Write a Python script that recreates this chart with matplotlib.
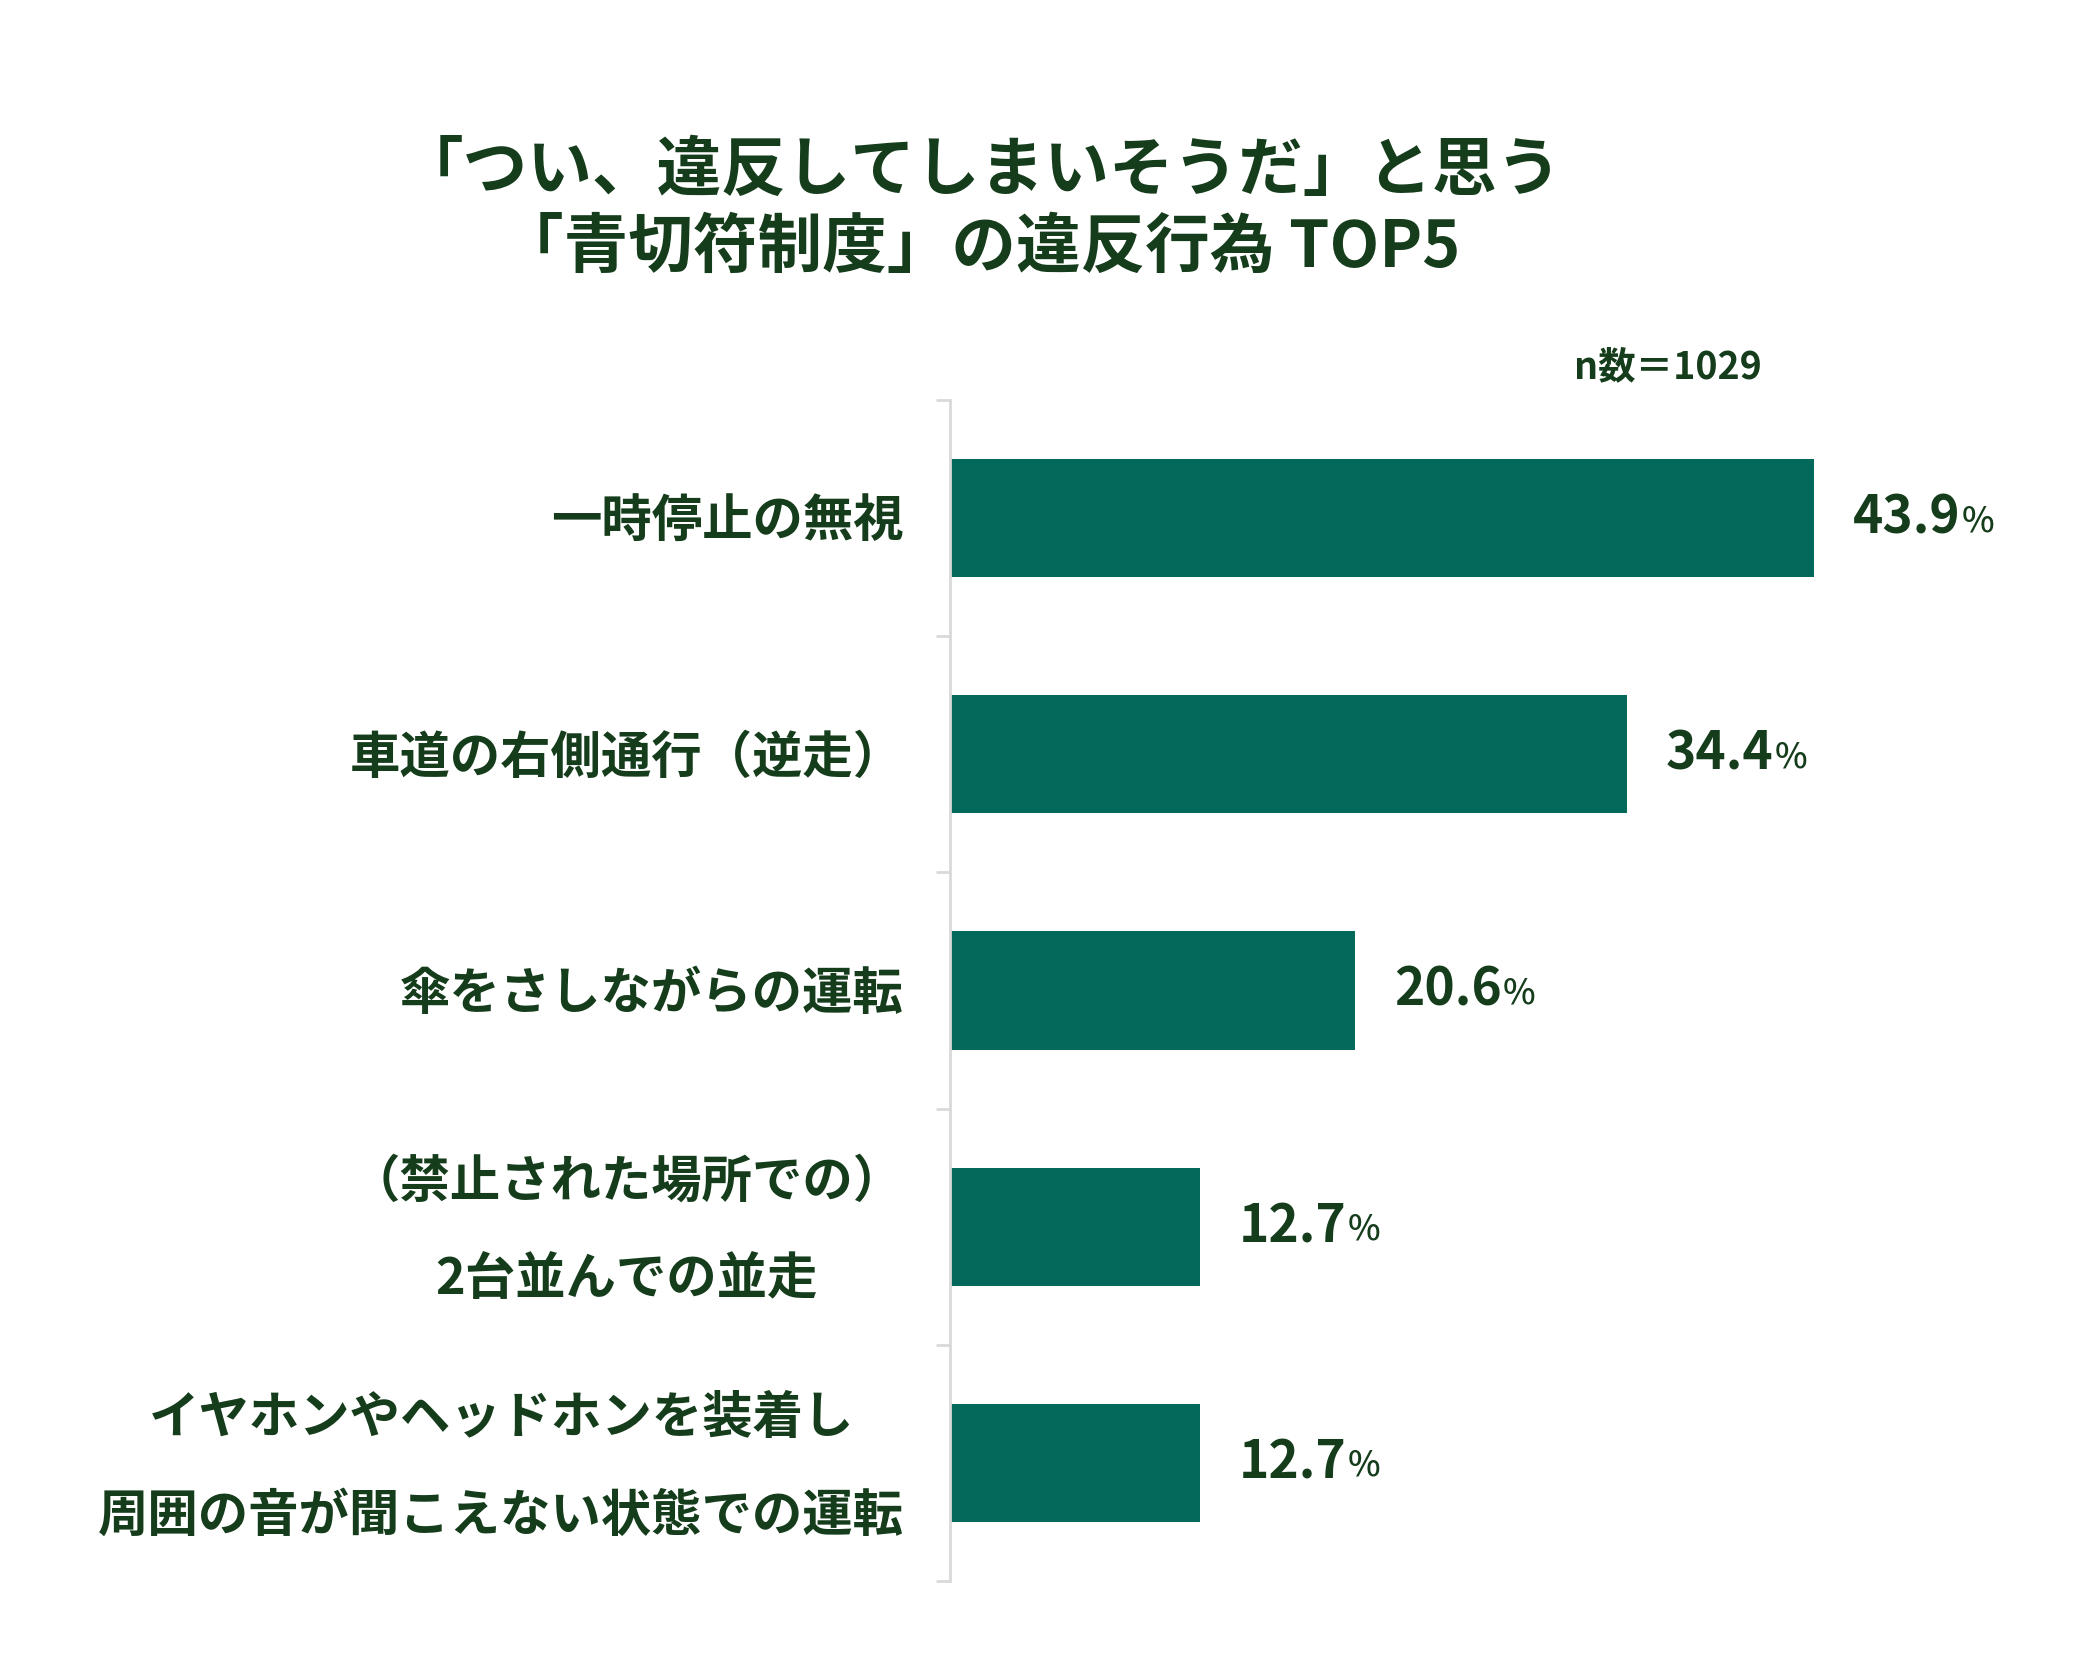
import matplotlib
matplotlib.use("Agg")
import matplotlib.pyplot as plt
import matplotlib.transforms as mtransforms

plt.rcParams["font.family"] = ["Noto Sans CJK JP", "DejaVu Sans"]

# Data
CATEGORIES = [
    "一時停止の無視",
    "車道の右側通行（逆走）",
    "傘をさしながらの運転",
    "（禁止された場所での）\n2台並んでの並走",
    "イヤホンやヘッドホンを装着し\n周囲の音が聞こえない状態での運転",
]
VALUES = [43.9, 34.4, 20.6, 12.7, 12.7]

TITLE = "「つい、違反してしまいそうだ」と思う\n「青切符制度」の違反行為 TOP5"
N_NOTE = "n数＝1029"

BAR_COLOR = "#036a5b"
TEXT_COLOR = "#153d1c"
AXIS_COLOR = "#d9d9d9"

W, H = 2096, 1668
fig = plt.figure(figsize=(W / 100, H / 100), dpi=100)
fig.patch.set_facecolor("white")

# axes box in pixels: left 950, top 400, bottom 1581, right 1934
ax = fig.add_axes([950 / W, 1 - 1581 / H, (1934 - 950) / W, (1581 - 400) / H])

pos = list(range(len(CATEGORIES)))
ax.barh(pos, VALUES, height=0.5, color=BAR_COLOR, zorder=2)

ax.set_xlim(0, 50)
ax.set_ylim(len(CATEGORIES) - 0.5, -0.5)

for side in ["top", "right", "bottom"]:
    ax.spines[side].set_visible(False)
ax.spines["left"].set_color(AXIS_COLOR)
ax.spines["left"].set_linewidth(2)
ax.set_xticks([])
ax.set_yticks([p - 0.5 for p in pos] + [len(pos) - 0.5])
ax.set_yticklabels([])
ax.tick_params(axis="y", length=10, width=2, color=AXIS_COLOR)

# category labels, right aligned to the left of the axis
lbl_trans = mtransforms.blended_transform_factory(
    ax.transAxes, ax.transData) + mtransforms.ScaledTranslation(-46 / 100, -4 / 100, fig.dpi_scale_trans)
for p, cat in zip(pos, CATEGORIES):
    ax.text(0, p, cat, transform=lbl_trans, ha="right", va="center",
            multialignment="center", linespacing=2.17,
            fontsize=36.3, fontweight="bold", color=TEXT_COLOR)

# value labels: number in bold, smaller % sign after it
fig.canvas.draw()
renderer = fig.canvas.get_renderer()
for p, v in zip(pos, VALUES):
    off = mtransforms.ScaledTranslation(39 / 100, 0, fig.dpi_scale_trans)
    t = ax.text(v, p, f"{v:.1f}", transform=ax.transData + off,
                ha="left", va="center", fontsize=37, fontweight="bold",
                color=TEXT_COLOR)
    bb = t.get_window_extent(renderer=renderer)
    x_end = ax.transData.inverted().transform((bb.x1, bb.y0))[0]
    ax.text(x_end, p, "%", transform=ax.transData + mtransforms.ScaledTranslation(1 / 100, -3 / 100, fig.dpi_scale_trans),
            ha="left", va="center", fontsize=25, fontweight="medium",
            color=TEXT_COLOR)

fig.text(980 / W, 1 - 210 / H, TITLE, ha="center", va="center",
         fontsize=46.5, fontweight="bold", color=TEXT_COLOR, linespacing=1.22)

fig.text(1762 / W, 1 - 367 / H, N_NOTE, ha="right", va="center",
         fontsize=27, fontweight="bold", color=TEXT_COLOR)

fig.savefig("out.png", dpi=100, facecolor="white")
